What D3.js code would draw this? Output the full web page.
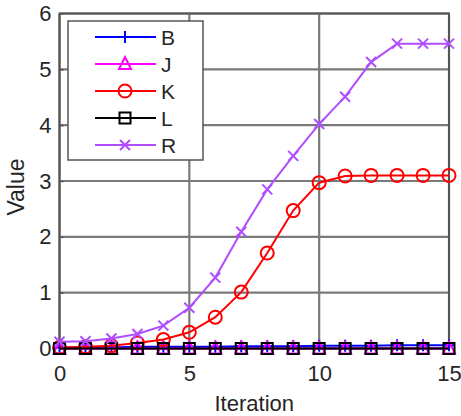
<!DOCTYPE html>
<html>
<head>
<meta charset="utf-8">
<script src="https://cdn.jsdelivr.net/npm/d3@7"></script>
<style>
  body { margin: 0; background: #fff; }
  text { font-family: "Liberation Sans", Arial, sans-serif; fill: #262626; }
</style>
</head>
<body>
<div id="chart"></div>
<script>
// data
const iterations = [0, 1, 2, 3, 4, 5, 6, 7, 8, 9, 10, 11, 12, 13, 14, 15];
const seriesB = [0.02, 0.02, 0.02, 0.03, 0.03, 0.03, 0.03, 0.04, 0.04, 0.04, 0.05, 0.05, 0.05, 0.06, 0.06, 0.06];
const seriesJ = [0, 0, 0, 0, 0, 0, 0, 0, 0, 0, 0, 0, 0, 0, 0, 0];
const seriesK = [0.02, 0.03, 0.05, 0.1, 0.16, 0.29, 0.56, 1.01, 1.71, 2.47, 2.97, 3.09, 3.1, 3.1, 3.1, 3.1];
const seriesL = [0, 0, 0, 0, 0, 0, 0, 0, 0, 0, 0, 0, 0, 0, 0, 0];
const seriesR = [0.12, 0.13, 0.18, 0.26, 0.41, 0.73, 1.27, 2.09, 2.85, 3.45, 4.02, 4.51, 5.13, 5.46, 5.46, 5.46];
const seriesNames = ["B", "J", "K", "L", "R"];
const xTicks = [0, 5, 10, 15];
const yTicks = [0, 1, 2, 3, 4, 5, 6];

const series = [
  {name: "B", values: seriesB, color: "#0000ff", marker: "plus"},
  {name: "J", values: seriesJ, color: "#ff00ff", marker: "triangle"},
  {name: "K", values: seriesK, color: "#ff0000", marker: "circle"},
  {name: "L", values: seriesL, color: "#000000", marker: "square"},
  {name: "R", values: seriesR, color: "#b04dff", marker: "cross"}
];

const W = 461, H = 416;
const margin = {top: 13.5, right: 12, bottom: 67.5, left: 59.5};
const width = W - margin.left - margin.right;
const height = H - margin.top - margin.bottom;

const svg = d3.select("#chart").append("svg")
  .attr("width", W)
  .attr("height", H);

const g = svg.append("g")
  .attr("transform", `translate(${margin.left},${margin.top})`);

const x = d3.scaleLinear().domain([0, 15]).range([0, width]);
const y = d3.scaleLinear().domain([0, 6]).range([height, 0]);

// grid
g.append("g").selectAll("line").data(xTicks).enter().append("line")
  .attr("x1", d => x(d)).attr("x2", d => x(d))
  .attr("y1", 0).attr("y2", height)
  .attr("stroke", "#7a7a7a").attr("stroke-width", 2.2);
g.append("g").selectAll("line").data(yTicks).enter().append("line")
  .attr("x1", 0).attr("x2", width)
  .attr("y1", d => y(d)).attr("y2", d => y(d))
  .attr("stroke", "#7a7a7a").attr("stroke-width", 2.2);

// axes (ticks inside, box drawn separately)
const xAxis = g.append("g")
  .attr("transform", `translate(0,${height})`)
  .call(d3.axisBottom(x).tickValues(xTicks).tickFormat(d3.format("d"))
    .tickSizeInner(-4).tickSizeOuter(0).tickPadding(17));
const yAxis = g.append("g")
  .call(d3.axisLeft(y).tickValues(yTicks).tickFormat(d3.format("d"))
    .tickSizeInner(-4).tickSizeOuter(0).tickPadding(8));
[xAxis, yAxis].forEach(a => {
  a.select(".domain").remove();
  a.selectAll("line").attr("stroke", "#555").attr("stroke-width", 1.5);
  a.selectAll("text").style("font-size", "22px").style("fill", "#262626")
    .style("font-family", "Liberation Sans, Arial, sans-serif");
});

g.append("rect")
  .attr("x", 0).attr("y", 0)
  .attr("width", width).attr("height", height)
  .attr("fill", "none").attr("stroke", "#555").attr("stroke-width", 2);

// marker drawing
function drawMarker(sel, type, color) {
  if (type === "plus") {
    sel.append("path").attr("d", "M-6,0H6M0,-6V6")
      .attr("stroke", color).attr("stroke-width", 2).attr("fill", "none");
  } else if (type === "triangle") {
    sel.append("path").attr("d", "M0,-7L6,5H-6Z")
      .attr("stroke", color).attr("stroke-width", 2).attr("fill", "none");
  } else if (type === "circle") {
    sel.append("circle").attr("r", 6.5)
      .attr("stroke", color).attr("stroke-width", 2).attr("fill", "none");
  } else if (type === "square") {
    sel.append("rect").attr("x", -5.5).attr("y", -5.5).attr("width", 11).attr("height", 11)
      .attr("stroke", color).attr("stroke-width", 2).attr("fill", "none");
  } else if (type === "cross") {
    sel.append("path").attr("d", "M-5,-5L5,5M-5,5L5,-5")
      .attr("stroke", color).attr("stroke-width", 2).attr("fill", "none");
  }
}

const line = d3.line()
  .x((d, i) => x(iterations[i]))
  .y(d => y(d));

const plot = g.append("g");
series.forEach(s => {
  const sg = plot.append("g");
  sg.append("path")
    .datum(s.values)
    .attr("d", line)
    .attr("fill", "none")
    .attr("stroke", s.color)
    .attr("stroke-width", 2);
  s.values.forEach((v, i) => {
    const m = sg.append("g").attr("transform", `translate(${x(iterations[i])},${y(v)})`);
    drawMarker(m, s.marker, s.color);
  });
});

// legend
const legend = svg.append("g").attr("transform", "translate(68,21)");
legend.append("rect")
  .attr("width", 135).attr("height", 139)
  .attr("fill", "#fff").attr("stroke", "#555").attr("stroke-width", 1.5);
seriesNames.forEach((name, i) => {
  const s = series.find(d => d.name === name);
  const row = legend.append("g").attr("transform", `translate(0,${16 + i * 27})`);
  row.append("line")
    .attr("x1", 27).attr("x2", 88)
    .attr("stroke", s.color).attr("stroke-width", 2);
  const m = row.append("g").attr("transform", "translate(57,0)");
  drawMarker(m, s.marker, s.color);
  row.append("text")
    .attr("x", 93).attr("y", 8)
    .style("font-size", "21px")
    .text(name);
});

// axis titles
svg.append("text")
  .attr("x", margin.left + width / 2)
  .attr("y", 411)
  .attr("text-anchor", "middle")
  .style("font-size", "22px")
  .text("Iteration");

svg.append("text")
  .attr("transform", `translate(24,187) rotate(-90)`)
  .attr("text-anchor", "middle")
  .style("font-size", "23px")
  .text("Value");
</script>
</body>
</html>
